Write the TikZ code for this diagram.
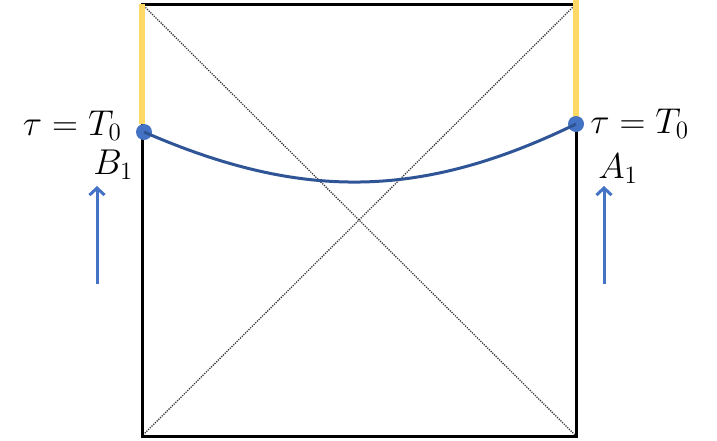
\documentclass[tikz,border=0pt]{standalone}
\usetikzlibrary{arrows.meta}
\definecolor{yel}{HTML}{FFD966}
\definecolor{dotblue}{HTML}{4472C4}
\definecolor{curveblue}{HTML}{2F5597}
\begin{document}
\begin{tikzpicture}[x=1pt,y=-1pt,
  frame/.style={line width=3pt,black},
  diag/.style={line width=1.3pt,black!80,dash pattern=on 1.2pt off 1.2pt},
  horizon/.style={line width=5.5pt,yel},
  pt/.style={circle,fill=dotblue,inner sep=0pt,minimum size=16pt},
  lab/.style={inner sep=0pt,font=\huge,scale=1.73},
  uparrow/.style={line width=3pt,dotblue,-{Straight Barb[length=7pt,width=15pt]}}]
\useasboundingbox (0,0) rectangle (717,440);
\coordinate (tl) at (142,4);
\coordinate (tr) at (576,4);
\coordinate (bl) at (142,436);
\coordinate (br) at (576,436);
\coordinate (yl) at (142,124);
\coordinate (yrtop) at (576,0);
\coordinate (yr) at (576,120);
\draw[diag] (tl) -- (br);
\draw[diag] (tr) -- (bl);
\draw[frame] (tl) -- (tr) -- (br) -- (bl) -- cycle;
\draw[horizon] (tl) -- (yl);
\draw[horizon] (yrtop) -- (yr);
\node[pt] (dotL) at (144,132) {};
\node[pt] (dotR) at (576,124) {};
\draw[curveblue,line width=3pt] (dotL.center) .. controls (300,200) and (420,200) .. (dotR.center);
\node[lab,anchor=base east] (tauL) at (122,135) {$\tau = T_0$};
\node[lab,anchor=base west] (tauR) at (590,133) {$\tau = T_0$};
\node[lab,anchor=base west] (B1) at (93,174) {$B_1$};
\node[lab,anchor=base west] (A1) at (598,178) {$A_1$};
\coordinate (bs) at (97,284);
\coordinate (be) at (97,186);
\coordinate (as) at (604,284);
\coordinate (ae) at (604,186);
\draw[uparrow] (bs) -- (be);
\draw[uparrow] (as) -- (ae);
\end{tikzpicture}
\end{document}
